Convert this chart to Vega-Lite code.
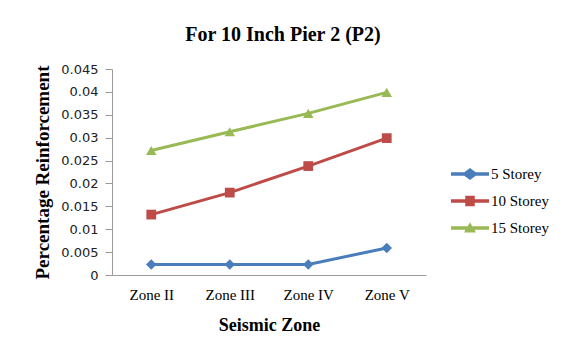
{
  "$schema": "https://vega.github.io/schema/vega-lite/v6.json",
  "width": 314,
  "height": 206,
  "padding": {"left": 33, "top": 25, "right": 5, "bottom": 5},
  "background": "white",
  "title": {
    "text": "For 10 Inch Pier 2 (P2)",
    "font": "Liberation Serif",
    "fontSize": 20,
    "fontWeight": "bold",
    "color": "#000000",
    "anchor": "middle",
    "frame": "group",
    "dx": 14,
    "offset": 18
  },
  "data": {
    "values": [
      {"zone": "Zone II", "series": "5 Storey", "value": 0.0023},
      {"zone": "Zone III", "series": "5 Storey", "value": 0.0023},
      {"zone": "Zone IV", "series": "5 Storey", "value": 0.0023},
      {"zone": "Zone V", "series": "5 Storey", "value": 0.0059},
      {"zone": "Zone II", "series": "10 Storey", "value": 0.0132},
      {"zone": "Zone III", "series": "10 Storey", "value": 0.018},
      {"zone": "Zone IV", "series": "10 Storey", "value": 0.0238},
      {"zone": "Zone V", "series": "10 Storey", "value": 0.0299},
      {"zone": "Zone II", "series": "15 Storey", "value": 0.0272},
      {"zone": "Zone III", "series": "15 Storey", "value": 0.0313},
      {"zone": "Zone IV", "series": "15 Storey", "value": 0.0353},
      {"zone": "Zone V", "series": "15 Storey", "value": 0.0399}
    ]
  },
  "encoding": {
    "x": {
      "field": "zone",
      "type": "ordinal",
      "sort": ["Zone II", "Zone III", "Zone IV", "Zone V"],
      "scale": {"type": "point", "padding": 0.5},
      "axis": {
        "title": "Seismic Zone",
        "titleFont": "Liberation Serif",
        "titleFontSize": 18,
        "titleFontWeight": "bold",
        "titleColor": "#000000",
        "titlePadding": 14,
        "labelFont": "Liberation Serif",
        "labelFontSize": 15,
        "labelColor": "#000000",
        "labelAngle": 0,
        "labelPadding": 12,
        "ticks": false,
        "domainColor": "#9a9a9a",
        "domainWidth": 1,
        "grid": false
      }
    },
    "y": {
      "field": "value",
      "type": "quantitative",
      "scale": {"domain": [0, 0.045], "nice": false},
      "axis": {
        "title": "Percentage Reinforcement",
        "titleFont": "Liberation Serif",
        "titleFontSize": 19,
        "titleFontWeight": "bold",
        "titleColor": "#000000",
        "titlePadding": 8,
        "labelFont": "DejaVu Sans",
        "labelFontSize": 13,
        "labelColor": "#222222",
        "values": [0, 0.005, 0.01, 0.015, 0.02, 0.025, 0.03, 0.035, 0.04, 0.045],
        "format": "~f",
        "tickSize": 7,
        "tickColor": "#9a9a9a",
        "domainColor": "#9a9a9a",
        "labelPadding": 7,
        "grid": false
      }
    },
    "color": {
      "field": "series",
      "type": "nominal",
      "title": null,
      "scale": {"domain": ["5 Storey", "10 Storey", "15 Storey"], "range": ["#4A7EBB", "#BE4B48", "#98B954"]}
    }
  },
  "layer": [
    {
      "mark": {"type": "line", "strokeWidth": 3}
    },
    {
      "transform": [{"filter": "datum.series === '5 Storey'"}],
      "mark": {"type": "point", "filled": true, "opacity": 1, "size": 110, "shape": "diamond"}
    },
    {
      "transform": [{"filter": "datum.series === '10 Storey'"}],
      "mark": {"type": "point", "filled": true, "opacity": 1, "size": 95, "shape": "square"}
    },
    {
      "transform": [{"filter": "datum.series === '15 Storey'"}],
      "mark": {"type": "point", "filled": true, "opacity": 1, "size": 110, "shape": "triangle-up"}
    },
    {
      "mark": {"type": "point", "filled": true, "opacity": 1, "size": 0},
      "encoding": {
        "shape": {
          "field": "series",
          "type": "nominal",
          "title": null,
          "scale": {"domain": ["5 Storey", "10 Storey", "15 Storey"], "range": [
            "M-1,-0.09L-0.3,-0.09L0,-0.32L0.3,-0.09L1,-0.09L1,0.09L0.3,0.09L0,0.32L-0.3,0.09L-1,0.09Z",
            "M-1,-0.09L-0.25,-0.09L-0.25,-0.27L0.25,-0.27L0.25,-0.09L1,-0.09L1,0.09L0.25,0.09L0.25,0.27L-0.25,0.27L-0.25,0.09L-1,0.09Z",
            "M-1,-0.09L-0.12,-0.09L0,-0.3L0.12,-0.09L1,-0.09L1,0.09L0.25,0.09L0.3,0.24L-0.3,0.24L-0.25,0.09L-1,0.09Z"
          ]}
        }
      }
    }
  ],
  "config": {
    "view": {"stroke": null},
    "legend": {
      "orient": "none",
      "legendX": 339,
      "legendY": 86,
      "labelFont": "Liberation Serif",
      "labelFontSize": 15,
      "labelColor": "#000000",
      "symbolSize": 1444,
      "symbolOpacity": 1,
      "symbolStrokeWidth": 0,
      "labelOffset": 2,
      "rowPadding": -5
    }
  }
}
